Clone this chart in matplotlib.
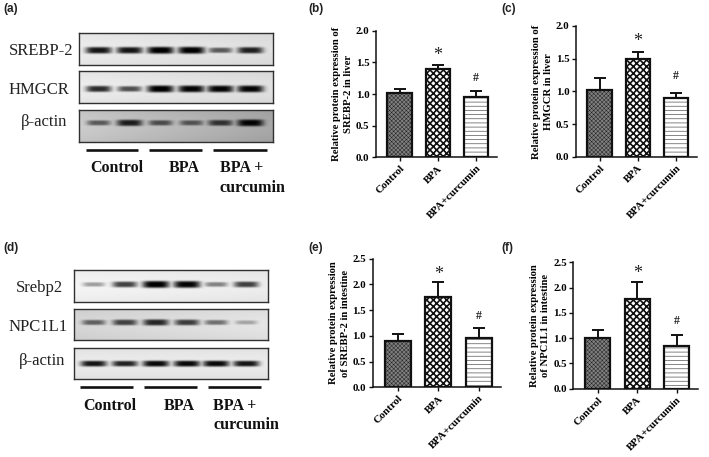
import numpy as np
import matplotlib
matplotlib.use("Agg")
import matplotlib.pyplot as plt

W, H = 709, 457
groups = ["Control", "BPA", "BPA+curcumin"]
b_vals = [1.02, 1.40, 0.96]; b_top = [1.08, 1.46, 1.05]
c_vals = [1.03, 1.49, 0.90]; c_top = [1.20, 1.60, 0.98]
e_vals = [0.90, 1.75, 0.95]; e_top = [1.03, 2.04, 1.16]
f_vals = [1.00, 1.78, 0.85]; f_top = [1.16, 2.11, 1.07]
b_marks = [1.61, 1.26]; c_marks = [1.77, 1.24]; e_marks = [2.20, 1.38]; f_marks = [2.28, 1.33]
lanes = [.10, .26, .42, .58, .73, .885]
a1 = [.90, .90, 1.0, 1.0, .60, .85]
a2 = [.80, .65, 1.0, .97, .97, .97]
a3 = [.55, .85, .60, .55, .72, .97]
d1 = [.35, .72, 1.0, .97, .45, .72]
d2 = [.55, .70, .82, .72, .50, .28]
d3 = [.90, .85, .95, .95, .95, .90]

SERIF = "Liberation Serif"
SANS = "Liberation Sans"
fig = plt.figure(figsize=(W/100, H/100), dpi=100, facecolor="white")

def px_axes(x0, y0, x1, y1):
    return fig.add_axes([x0/W, 1-y1/H, (x1-x0)/W, (y1-y0)/H])

def blot(box, vals, yfrac, bg=(.93, .88), sigma=.085, hw=.064):
    ax = px_axes(*box)
    ny, nx = 64, 240
    X, Y = np.meshgrid(np.linspace(0, 1, nx), np.linspace(0, 1, ny))
    img = bg[0] + (bg[1]-bg[0])*X - .10*np.abs(Y-.5)**1.5
    dark = np.zeros_like(img)
    for c, v in zip(lanes, vals):
        prof = np.exp(-((X-c)/(hw*(.78+.3*v)))**4)*np.exp(-((Y-yfrac)/(sigma*(.55+.75*v)))**4)
        dark = np.maximum(dark, v*prof)
    img = np.clip(img*(1-dark*1.02), 0, 1)
    ax.imshow(img, cmap="gray", vmin=0, vmax=1, aspect="auto", extent=(0, 1, 1, 0), interpolation="bilinear")
    ax.set_xticks([]); ax.set_yticks([])
    for s in ax.spines.values():
        s.set_linewidth(1.0); s.set_color("#303030")

def bars(box, ymax, step, vals, tops, marks, ylab):
    ax = px_axes(*box)
    x = np.arange(3)
    fc = ["#808080", "white", "white"]
    hatch = ["xxxxxxxx", "xxxxx", "----"]
    lw = [.35, 1.2, .5]
    hc = ["#222222", "#111111", "#555555"]
    for i in x:
        ax.bar(i, vals[i], width=.64, facecolor=fc[i], edgecolor=hc[i], linewidth=0, hatch=hatch[i], zorder=2).patches[0].set_hatch_linewidth(lw[i])
        ax.bar(i, vals[i], width=.64, facecolor="none", edgecolor="#111111", linewidth=1.6, zorder=3)
    ax.errorbar(x, vals, yerr=[np.zeros(3), np.array(tops)-np.array(vals)], fmt="none", ecolor="#111111",
                elinewidth=1.4, capsize=4.3, capthick=1.4, zorder=1)
    ax.set_xlim(-.62, 2.55); ax.set_ylim(0, ymax)
    ticks = np.arange(0, ymax+.01, step)
    ax.set_yticks(ticks)
    ax.set_yticklabels([f"{t:.1f}" for t in ticks], fontfamily=SERIF, fontweight="bold", fontsize=7.8)
    ax.set_xticks(x)
    ax.set_xticklabels(groups, rotation=45, ha="right", rotation_mode="anchor", fontfamily=SERIF, fontweight="bold", fontsize=7.8)
    ax.tick_params(width=1.0, length=3.2, pad=1.5, color="#111111")
    for s in ("top", "right"):
        ax.spines[s].set_visible(False)
    for s in ("left", "bottom"):
        ax.spines[s].set_linewidth(1.1); ax.spines[s].set_color("#111111")
    ax.patch.set_alpha(0)
    ax.text(1, marks[0], "*", ha="center", va="center", fontfamily=SERIF, fontsize=13, color="#222222")
    ax.text(2, marks[1], "#", ha="center", va="center", fontfamily=SERIF, fontweight="bold", fontsize=8.5, color="#222222")
    ax.set_ylabel(ylab, fontfamily=SERIF, fontweight="bold", fontsize=7.7, linespacing=1.4, labelpad=2)

blot((78.7, 32.7, 272.7, 64.7), a1, .54)
blot((78.7, 71.3, 272.7, 103.3), a2, .56)
blot((78.7, 110, 272.7, 141.7), a3, .40, bg=(.80, .66))
blot((74, 269.7, 268.3, 301.7), d1, .45, bg=(.96, .93))
blot((74, 309, 268.3, 340.3), d2, .45, bg=(.84, .90))
blot((74, 347.7, 268.3, 379.3), d3, .52, bg=(.92, .92), sigma=.075)

bars((376, 30.7, 497, 157.3), 2.0, .5, b_vals, b_top, b_marks, "Relative protein expression of\nSREBP-2 in liver")
bars((576, 26, 697, 157), 2.0, .5, c_vals, c_top, c_marks, "Relative protein expression of\nHMGCR in liver")
bars((372.7, 258.7, 501, 387.3), 2.5, .5, e_vals, e_top, e_marks, "Relative protein expression\nof SREBP-2 in intestine")
bars((573.3, 262.3, 698.3, 388.7), 2.5, .5, f_vals, f_top, f_marks, "Relative protein expression\nof NPC1L1 in intestine")

ov = fig.add_axes([0, 0, 1, 1], facecolor="none")
ov.set_xlim(0, W); ov.set_ylim(H, 0); ov.axis("off")
for lab, x, y in [("(a)", 3, 9), ("(b)", 308, 9), ("(c)", 501, 9), ("(d)", 3, 248), ("(e)", 308, 248), ("(f)", 501, 248)]:
    ov.text(x, y, lab, fontfamily=SANS, fontweight="bold", fontsize=8.5, va="center", color="#222222")
for t, x, y in [("SREBP-2", 9, 51), ("HMGCR", 9, 90), ("β-actin", 21, 122), ("Srebp2", 16, 288), ("NPC1L1", 9, 327), ("β-actin", 19, 361)]:
    ov.text(x, y, t, fontfamily=SERIF, fontsize=12, va="center", color="#222222")
for x0, x1 in [(85.7, 138.3), (149, 202), (213.3, 266.7)]:
    ov.plot([x0, x1], [150, 150], color="#111111", lw=1.9, solid_capstyle="butt")
for x0, x1 in [(80.3, 133.3), (144, 197), (208.3, 261.3)]:
    ov.plot([x0, x1], [387.3, 387.3], color="#111111", lw=1.9, solid_capstyle="butt")
for t, x, y in [("Control", 90, 168), ("BPA", 169, 168), ("BPA +", 220.5, 168), ("curcumin", 220, 188),
                ("Control", 83, 406.5), ("BPA", 163.5, 406), ("BPA +", 213, 406), ("curcumin", 213, 425)]:
    ov.text(x, y, t, fontfamily=SERIF, fontweight="bold", fontsize=11.5, va="center", color="#111111")

fig.savefig("out.png", dpi=100)
